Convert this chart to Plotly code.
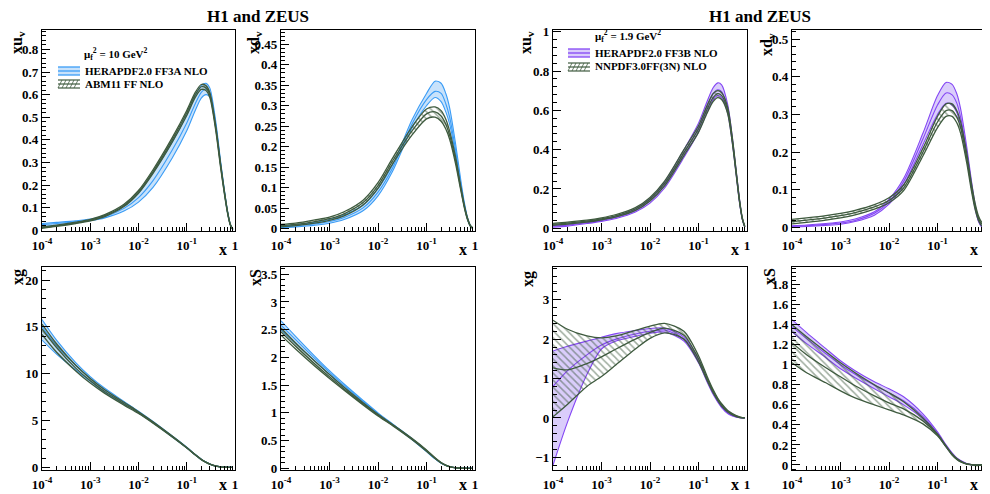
import plotly.graph_objects as go

# x grid shared by all curves
X = [1e-4, 2e-4, 5e-4, 1e-3, 2e-3, 5e-3, 1e-2, 2e-2, 5e-2, 0.1,
     0.15, 0.2, 0.25, 0.3, 0.4, 0.5, 0.6, 0.7, 0.8, 0.9]

# ---- mu_f^2 = 10 GeV^2 : HERAPDF2.0 FF3A vs ABM11 FF ----
p1_hera_lo = [0.016, 0.022, 0.033, 0.042, 0.055, 0.085, 0.125, 0.19, 0.32, 0.44, 0.53, 0.585, 0.60, 0.59, 0.455, 0.295, 0.17, 0.078, 0.024, 0.003]
p1_hera_c = [0.025, 0.030, 0.038, 0.046, 0.060, 0.097, 0.145, 0.22, 0.355, 0.475, 0.56, 0.61, 0.625, 0.61, 0.465, 0.30, 0.175, 0.082, 0.026, 0.004]
p1_hera_hi = [0.030, 0.035, 0.042, 0.050, 0.066, 0.108, 0.165, 0.255, 0.39, 0.51, 0.595, 0.64, 0.65, 0.63, 0.48, 0.31, 0.18, 0.085, 0.027, 0.004]
p1_abm_lo = [0.009, 0.017, 0.030, 0.042, 0.061, 0.105, 0.164, 0.252, 0.39, 0.508, 0.588, 0.623, 0.618, 0.588, 0.44, 0.282, 0.164, 0.076, 0.023, 0.003]
p1_abm_c = [0.012, 0.020, 0.033, 0.045, 0.065, 0.110, 0.170, 0.260, 0.40, 0.52, 0.60, 0.635, 0.63, 0.60, 0.45, 0.29, 0.17, 0.08, 0.025, 0.004]
p1_abm_hi = [0.015, 0.023, 0.036, 0.048, 0.069, 0.115, 0.176, 0.268, 0.41, 0.53, 0.61, 0.645, 0.64, 0.61, 0.46, 0.298, 0.176, 0.084, 0.027, 0.005]

p2_hera_lo = [0.002, 0.004, 0.008, 0.013, 0.022, 0.044, 0.080, 0.14, 0.245, 0.30, 0.32, 0.31, 0.285, 0.255, 0.18, 0.108, 0.055, 0.022, 0.006, 0.0]
p2_hera_c = [0.004, 0.0065, 0.011, 0.017, 0.027, 0.051, 0.089, 0.148, 0.255, 0.315, 0.335, 0.33, 0.305, 0.272, 0.19, 0.115, 0.06, 0.025, 0.007, 0.001]
p2_hera_hi = [0.006, 0.009, 0.015, 0.022, 0.033, 0.058, 0.098, 0.155, 0.265, 0.33, 0.36, 0.355, 0.33, 0.295, 0.205, 0.125, 0.065, 0.027, 0.008, 0.001]
p2_abm_lo = [0.004, 0.007, 0.013, 0.020, 0.031, 0.058, 0.098, 0.158, 0.228, 0.268, 0.272, 0.262, 0.243, 0.218, 0.157, 0.098, 0.052, 0.022, 0.006, 0.0]
p2_abm_c = [0.007, 0.010, 0.017, 0.024, 0.036, 0.064, 0.105, 0.165, 0.238, 0.28, 0.285, 0.275, 0.255, 0.228, 0.165, 0.103, 0.055, 0.024, 0.007, 0.001]
p2_abm_hi = [0.010, 0.013, 0.021, 0.028, 0.041, 0.070, 0.112, 0.172, 0.248, 0.292, 0.297, 0.288, 0.267, 0.238, 0.173, 0.108, 0.058, 0.026, 0.008, 0.002]

p5_hera_lo = [13.6, 12.1, 10.4, 9.2, 8.0, 6.75, 5.8, 4.75, 3.25, 2.08, 1.33, 0.84, 0.54, 0.34, 0.13, 0.055, 0.02, 0.008, 0.0, 0.0]
p5_hera_c = [15.0, 13.0, 10.9, 9.5, 8.25, 6.9, 5.9, 4.83, 3.3, 2.1, 1.35, 0.86, 0.55, 0.35, 0.14, 0.06, 0.025, 0.01, 0.001, 0.0]
p5_hera_hi = [15.8, 13.6, 11.2, 9.7, 8.45, 7.05, 6.0, 4.9, 3.35, 2.15, 1.38, 0.88, 0.57, 0.37, 0.15, 0.065, 0.03, 0.012, 0.002, 0.0]
p5_abm_lo = [14.2, 12.3, 10.3, 9.0, 7.9, 6.65, 5.75, 4.72, 3.25, 2.07, 1.33, 0.83, 0.54, 0.34, 0.13, 0.055, 0.02, 0.008, 0.0, 0.0]
p5_abm_c = [14.8, 12.8, 10.6, 9.25, 8.1, 6.8, 5.85, 4.8, 3.3, 2.1, 1.35, 0.85, 0.55, 0.35, 0.14, 0.06, 0.025, 0.01, 0.0, 0.0]
p5_abm_hi = [15.3, 13.2, 10.9, 9.5, 8.3, 6.95, 5.95, 4.88, 3.35, 2.13, 1.37, 0.87, 0.56, 0.36, 0.15, 0.065, 0.03, 0.012, 0.002, 0.0]

p6_hera_lo = [2.50, 2.25, 1.93, 1.69, 1.46, 1.18, 0.97, 0.78, 0.52, 0.30, 0.17, 0.09, 0.05, 0.027, 0.009, 0.003, 0.001, 0.0, 0.0, 0.0]
p6_hera_c = [2.58, 2.32, 1.98, 1.73, 1.49, 1.20, 0.985, 0.79, 0.53, 0.31, 0.175, 0.095, 0.052, 0.028, 0.009, 0.003, 0.001, 0.0, 0.0, 0.0]
p6_hera_hi = [2.66, 2.38, 2.02, 1.76, 1.52, 1.22, 1.0, 0.80, 0.54, 0.32, 0.18, 0.10, 0.055, 0.03, 0.01, 0.004, 0.002, 0.001, 0.0, 0.0]
p6_abm_lo = [2.40, 2.15, 1.84, 1.62, 1.41, 1.14, 0.945, 0.77, 0.52, 0.31, 0.178, 0.096, 0.052, 0.028, 0.009, 0.003, 0.001, 0.0, 0.0, 0.0]
p6_abm_c = [2.46, 2.20, 1.88, 1.65, 1.43, 1.16, 0.96, 0.78, 0.53, 0.32, 0.185, 0.10, 0.055, 0.03, 0.01, 0.004, 0.002, 0.001, 0.0, 0.0]
p6_abm_hi = [2.53, 2.26, 1.93, 1.69, 1.46, 1.18, 0.975, 0.79, 0.54, 0.33, 0.19, 0.104, 0.058, 0.032, 0.011, 0.005, 0.002, 0.001, 0.0, 0.0]

# ---- mu_f^2 = 1.9 GeV^2 : HERAPDF2.0 FF3B vs NNPDF3.0FF(3N) ----
p3_hera_lo = [0.005, 0.011, 0.024, 0.035, 0.05, 0.083, 0.128, 0.205, 0.36, 0.49, 0.59, 0.655, 0.675, 0.665, 0.585, 0.43, 0.27, 0.13, 0.045, 0.006]
p3_hera_c = [0.010, 0.016, 0.028, 0.040, 0.056, 0.090, 0.140, 0.220, 0.38, 0.512, 0.618, 0.685, 0.705, 0.695, 0.605, 0.445, 0.28, 0.14, 0.048, 0.007]
p3_hera_hi = [0.015, 0.022, 0.033, 0.045, 0.062, 0.098, 0.150, 0.235, 0.40, 0.535, 0.645, 0.715, 0.74, 0.73, 0.63, 0.46, 0.29, 0.15, 0.05, 0.008]
p3_nn_lo = [0.015, 0.021, 0.031, 0.043, 0.058, 0.091, 0.139, 0.216, 0.37, 0.488, 0.585, 0.645, 0.665, 0.655, 0.583, 0.433, 0.272, 0.135, 0.047, 0.006]
p3_nn_c = [0.020, 0.026, 0.036, 0.048, 0.064, 0.098, 0.148, 0.228, 0.385, 0.505, 0.605, 0.665, 0.685, 0.675, 0.60, 0.445, 0.28, 0.14, 0.05, 0.008]
p3_nn_hi = [0.025, 0.031, 0.041, 0.053, 0.070, 0.105, 0.157, 0.240, 0.40, 0.522, 0.625, 0.685, 0.70, 0.69, 0.615, 0.457, 0.288, 0.145, 0.053, 0.01]

p4_hera_lo = [0.001, 0.003, 0.006, 0.009, 0.016, 0.033, 0.062, 0.113, 0.22, 0.30, 0.33, 0.325, 0.305, 0.27, 0.185, 0.105, 0.048, 0.016, 0.003, 0.0]
p4_hera_c = [0.003, 0.005, 0.0085, 0.012, 0.019, 0.038, 0.068, 0.122, 0.235, 0.325, 0.357, 0.352, 0.33, 0.292, 0.20, 0.115, 0.054, 0.019, 0.005, 0.0]
p4_hera_hi = [0.005, 0.007, 0.011, 0.015, 0.023, 0.042, 0.075, 0.130, 0.25, 0.35, 0.385, 0.38, 0.355, 0.315, 0.215, 0.125, 0.06, 0.022, 0.006, 0.001]
p4_nn_lo = [0.010, 0.014, 0.020, 0.026, 0.034, 0.049, 0.066, 0.098, 0.19, 0.265, 0.295, 0.295, 0.278, 0.25, 0.172, 0.098, 0.047, 0.019, 0.006, 0.0]
p4_nn_c = [0.016, 0.020, 0.026, 0.032, 0.040, 0.055, 0.072, 0.105, 0.20, 0.28, 0.31, 0.31, 0.293, 0.265, 0.185, 0.108, 0.055, 0.025, 0.011, 0.005]
p4_nn_hi = [0.022, 0.026, 0.032, 0.038, 0.046, 0.061, 0.079, 0.113, 0.21, 0.295, 0.328, 0.328, 0.31, 0.28, 0.198, 0.118, 0.063, 0.031, 0.016, 0.01]

p7_hera_lo = [-1.2, -0.1, 1.1, 1.75, 1.95, 2.07, 2.15, 2.18, 1.95, 1.40, 0.92, 0.60, 0.40, 0.26, 0.11, 0.05, 0.02, 0.005, 0.0, 0.0]
p7_hera_c = [0.8, 1.2, 1.6, 1.85, 2.0, 2.13, 2.2, 2.23, 2.0, 1.45, 0.96, 0.64, 0.43, 0.29, 0.13, 0.065, 0.03, 0.012, 0.003, 0.0]
p7_hera_hi = [1.7, 1.82, 1.95, 2.05, 2.14, 2.22, 2.27, 2.28, 2.05, 1.50, 1.0, 0.68, 0.47, 0.32, 0.15, 0.08, 0.04, 0.02, 0.005, 0.0]
p7_nn_lo = [0.03, 0.35, 0.8, 1.05, 1.35, 1.75, 2.02, 2.16, 2.0, 1.42, 0.95, 0.64, 0.44, 0.30, 0.15, 0.075, 0.035, 0.012, 0.003, 0.0]
p7_nn_c = [1.27, 1.22, 1.38, 1.55, 1.75, 2.0, 2.17, 2.28, 2.1, 1.50, 1.0, 0.68, 0.47, 0.33, 0.17, 0.09, 0.045, 0.02, 0.006, 0.0]
p7_nn_hi = [2.48, 2.25, 2.08, 2.03, 2.08, 2.22, 2.33, 2.40, 2.2, 1.58, 1.06, 0.72, 0.50, 0.36, 0.19, 0.11, 0.06, 0.03, 0.01, 0.0]

p8_hera_lo = [1.33, 1.21, 1.07, 0.96, 0.87, 0.76, 0.68, 0.60, 0.46, 0.30, 0.18, 0.105, 0.06, 0.035, 0.01, 0.002, 0.0, 0.0, 0.0, 0.0]
p8_hera_c = [1.38, 1.26, 1.11, 1.0, 0.905, 0.795, 0.72, 0.64, 0.485, 0.315, 0.19, 0.112, 0.065, 0.04, 0.012, 0.003, 0.0, 0.0, 0.0, 0.0]
p8_hera_hi = [1.45, 1.32, 1.16, 1.04, 0.94, 0.83, 0.76, 0.68, 0.51, 0.33, 0.20, 0.12, 0.07, 0.045, 0.015, 0.005, 0.001, 0.0, 0.0, 0.0]
p8_nn_lo = [1.02, 0.92, 0.82, 0.74, 0.67, 0.60, 0.55, 0.50, 0.41, 0.29, 0.18, 0.10, 0.055, 0.03, 0.008, 0.002, -0.005, -0.005, 0.0, 0.0]
p8_nn_c = [1.22, 1.10, 0.97, 0.88, 0.79, 0.69, 0.62, 0.56, 0.44, 0.30, 0.185, 0.105, 0.06, 0.035, 0.01, 0.003, 0.0, 0.0, 0.0, 0.0]
p8_nn_hi = [1.40, 1.28, 1.13, 1.02, 0.92, 0.80, 0.72, 0.63, 0.47, 0.31, 0.19, 0.11, 0.065, 0.04, 0.012, 0.004, 0.0, 0.0, 0.0, 0.0]

# tick labels
XTICKS = [1e-4, 1e-3, 1e-2, 1e-1, 1]
XTICKTEXT = ["10<sup>-4</sup>", "10<sup>-3</sup>", "10<sup>-2</sup>", "10<sup>-1</sup>", "1"]
XMINOR = [k * 10.0 ** e for e in (-4, -3, -2, -1) for k in range(2, 10)]

BLUE, BLUE_FILL = "#3a9cf6", "#c8e2fb"
PURPLE, PURPLE_FILL = "#8446f4", "#dacdfb"
GREEN = "#3e5a3e"
SERIF = "Liberation Serif"

# the page body has an 8px margin, so the figure is made 8px smaller and
# every screen position below is shifted by that amount
OFF = 8
W, H = 990 - OFF, 494 - OFF


def sx(x):
    return (x - OFF) / W


def sy(y):
    return 1 - (y - OFF) / H


def px(x0, x1):
    return [sx(x0), sx(x1)]


def py(top, bottom):
    return [sy(bottom), sy(top)]


# panel geometry, y range, tick step, y title and its position
panels = [
    (px(42, 235), py(30, 231), [-0.003, 0.886], 0.1, "xu<sub>v</sub>", 18, 43),
    (px(281, 475), py(30, 231), [-0.006, 0.485], 0.05, "xd<sub>v</sub>", 255, 43),
    (px(553, 747), py(30, 231), [-0.014, 1.009], 0.2, "xu<sub>v</sub>", 527, 43),
    (px(792, 986), py(30, 231), [-0.009, 0.524], 0.1, "xd<sub>v</sub>", 767, 45),
    (px(42, 235), py(267, 470), [-0.28, 21.4], 5, "xg", 18, 277),
    (px(281, 475), py(267, 470), [-0.03, 3.63], 0.5, "xS", 255, 278),
    (px(553, 747), py(267, 470), [-1.32, 3.83], 1, "xg", 528, 279),
    (px(792, 986), py(267, 470), [-0.05, 1.975], 0.2, "xS", 769, 277),
]

sets = [
    (1, "hera", p1_hera_lo, p1_hera_c, p1_hera_hi), (1, "abm", p1_abm_lo, p1_abm_c, p1_abm_hi),
    (2, "hera", p2_hera_lo, p2_hera_c, p2_hera_hi), (2, "abm", p2_abm_lo, p2_abm_c, p2_abm_hi),
    (5, "hera", p5_hera_lo, p5_hera_c, p5_hera_hi), (5, "abm", p5_abm_lo, p5_abm_c, p5_abm_hi),
    (6, "hera", p6_hera_lo, p6_hera_c, p6_hera_hi), (6, "abm", p6_abm_lo, p6_abm_c, p6_abm_hi),
    (3, "herab", p3_hera_lo, p3_hera_c, p3_hera_hi), (3, "nn", p3_nn_lo, p3_nn_c, p3_nn_hi),
    (4, "herab", p4_hera_lo, p4_hera_c, p4_hera_hi), (4, "nn", p4_nn_lo, p4_nn_c, p4_nn_hi),
    (7, "herab", p7_hera_lo, p7_hera_c, p7_hera_hi), (7, "nn", p7_nn_lo, p7_nn_c, p7_nn_hi),
    (8, "herab", p8_hera_lo, p8_hera_c, p8_hera_hi), (8, "nn", p8_nn_lo, p8_nn_c, p8_nn_hi),
]

styles = {
    "hera": dict(color=BLUE, fill=BLUE_FILL, width=1.1),
    "abm": dict(color=GREEN, fill=None, width=1.3),
    "herab": dict(color=PURPLE, fill=PURPLE_FILL, width=1.1),
    "nn": dict(color=GREEN, fill=None, width=1.3),
}

fig = go.Figure()
for panel, key, lo, c, hi in sets:
    st = styles[key]
    xa = "x" if panel == 1 else f"x{panel}"
    ya = "y" if panel == 1 else f"y{panel}"
    line = dict(color=st["color"], width=st["width"], shape="spline", smoothing=0.8)
    fig.add_trace(go.Scatter(x=X, y=lo, mode="lines", line=line, xaxis=xa, yaxis=ya,
                             showlegend=False, hoverinfo="skip"))
    band = dict(x=X, y=hi, mode="lines", line=line, xaxis=xa, yaxis=ya, fill="tonexty",
                showlegend=False, hoverinfo="skip")
    if st["fill"] is None:
        band["fillcolor"] = "rgba(0,0,0,0)"
        band["fillpattern"] = dict(shape="\\", fgcolor=GREEN, bgcolor="rgba(0,0,0,0)",
                                   size=5, solidity=0.3)
    else:
        band["fillcolor"] = st["fill"]
    fig.add_trace(go.Scatter(**band))
    fig.add_trace(go.Scatter(x=X, y=c, mode="lines", line=line, xaxis=xa, yaxis=ya,
                             showlegend=False, hoverinfo="skip"))

tickfont = dict(family=SERIF, size=13, color="black", weight="bold")
titlefont = dict(family=SERIF, size=16, color="black", weight="bold")
annotations = []


def note(text, x, y, font, xanchor="center", angle=0):
    annotations.append(dict(text=text, x=sx(x), y=sy(y), xref="paper", yref="paper",
                            xanchor=xanchor, yanchor="middle", textangle=angle,
                            showarrow=False, font=font))


for i, (dx, dy, yr, dt, ytitle, tx, ty) in enumerate(panels, start=1):
    sfx = "" if i == 1 else str(i)
    fig.layout["xaxis" + sfx] = dict(
        domain=dx, anchor="y" + sfx, type="log", range=[-4, 0], automargin=False,
        tickmode="array", tickvals=XTICKS, ticktext=XTICKTEXT,
        ticks="inside", ticklen=8, tickcolor="black",
        minor=dict(tickmode="array", tickvals=XMINOR, ticks="inside", ticklen=4, tickcolor="black"),
        showline=True, linecolor="black", linewidth=1.3, mirror=True,
        showgrid=False, zeroline=False, tickfont=tickfont, ticklabelstandoff=2)
    fig.layout["yaxis" + sfx] = dict(
        domain=dy, anchor="x" + sfx, range=yr, tick0=0, dtick=dt, automargin=False,
        ticks="inside", ticklen=8, tickcolor="black",
        minor=dict(tick0=0, dtick=dt / 5, ticks="inside", ticklen=4, tickcolor="black"),
        showline=True, linecolor="black", linewidth=1.3, mirror=True,
        showgrid=False, zeroline=False, tickfont=tickfont)
    note(ytitle, tx, ty, titlefont, angle=-90)
    right = [235, 475, 747, 986][(i - 1) % 4]
    note("x", right - 12, 249 if i <= 4 else 484, titlefont)

for cx in (258, 760):
    note("H1 and ZEUS", cx, 16, dict(family=SERIF, size=17, color="black", weight="bold"))

# legends drawn by hand: ROOT-style swatches with tight row spacing
legfont = dict(family=SERIF, size=11, color="black", weight="bold")
legends = [
    (82, 54, "\u03bc<sub>f</sub><sup>2</sup> = 10 GeV<sup>2</sup>", None, None),
    (83, 71, "HERAPDF2.0 FF3A NLO", "band", (BLUE, BLUE_FILL)),
    (83, 84, "ABM11 FF NLO", "hatch", (GREEN, None)),
    (593, 36, "\u03bc<sub>f</sub><sup>2</sup> = 1.9 GeV<sup>2</sup>", None, None),
    (593, 53, "HERAPDF2.0 FF3B NLO", "band", (PURPLE, PURPLE_FILL)),
    (593, 67, "NNPDF3.0FF(3N) NLO", "hatch", (GREEN, None)),
]
shapes = []


def seg(xa, ya, xb, yb, col, w):
    shapes.append(dict(type="line", xref="paper", yref="paper", x0=sx(xa), x1=sx(xb),
                       y0=sy(ya), y1=sy(yb), line=dict(color=col, width=w)))


for tx, ty, text, kind, cols in legends:
    note(text, tx, ty, legfont, xanchor="left")
    if kind is None:
        continue
    x0, x1 = tx - 25, tx - 3
    y0, y1 = ty - 4, ty + 4
    col, fill = cols
    if kind == "band":
        shapes.append(dict(type="rect", xref="paper", yref="paper", x0=sx(x0), x1=sx(x1),
                           y0=sy(y1), y1=sy(y0), fillcolor=fill, line=dict(width=0)))
        for yy in (y0, ty, y1):
            seg(x0, yy, x1, yy, col, 1.3)
    else:
        for yy in (y0, ty, y1):
            seg(x0, yy, x1, yy, col, 1.2)
        for k in range(0, 19, 4):
            seg(x0 + k, y1, x0 + k + 4, y0, col, 0.8)

fig.update_layout(
    width=W, height=H, margin=dict(l=0, r=0, t=0, b=0),
    paper_bgcolor="white", plot_bgcolor="white",
    showlegend=False, annotations=annotations, shapes=shapes,
)

fig.write_html("out.html")
